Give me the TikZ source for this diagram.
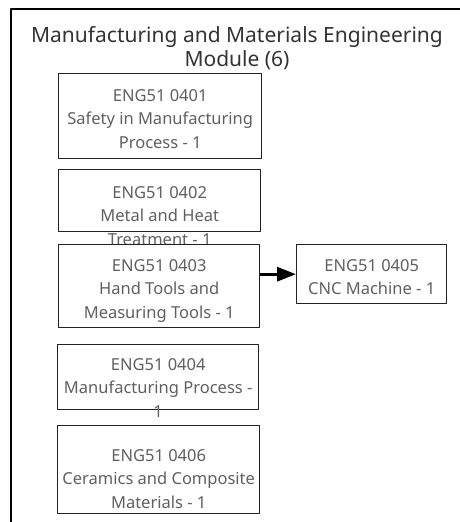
\documentclass[tikz,border=0pt]{standalone}
\usepackage{fontspec}
\setmainfont{Noto Sans}
\usetikzlibrary{arrows.meta}
\definecolor{boxline}{HTML}{222222}
\definecolor{boxtext}{HTML}{606060}
\definecolor{titletext}{HTML}{333333}
\begin{document}
\begin{tikzpicture}[x=1pt,y=-1pt,line join=round,
    box/.style={draw=boxline,line width=1.4pt,fill=white,anchor=north west,inner sep=0pt},
    boxtxt/.style={anchor=north,align=center,text=boxtext,font=\fontsize{16.5}{23.5}\selectfont,inner sep=0pt},
    arr/.style={-{Triangle[length=19pt,width=14pt]},line width=3.2pt}]
    \useasboundingbox (0,0) rectangle (459,522);
    \draw[line width=2pt] (11,523) |- (460,9);
    \node[align=center,text=titletext,font=\fontsize{21}{24}\selectfont] (title) at (237,48) {Manufacturing and Materials Engineering\\Module (6)};
    \node[box,minimum width=203pt,minimum height=85pt] (m0401) at (58,73) {};
    \node[boxtxt] (t0401) at ([yshift=-16pt]m0401.north) {ENG51 0401\\Safety in Manufacturing\\Process - 1};
    \node[box,minimum width=202pt,minimum height=62pt] (m0402) at (58,169) {};
    \node[boxtxt] (t0402) at ([yshift=-17pt]m0402.north) {ENG51 0402\\Metal and Heat\\Treatment - 1};
    \node[box,minimum width=201pt,minimum height=83pt] (m0403) at (58,244) {};
    \node[boxtxt] (t0403) at ([yshift=-15pt]m0403.north) {ENG51 0403\\Hand Tools and\\Measuring Tools - 1};
    \node[box,minimum width=150pt,minimum height=59pt] (m0405) at (296,244) {};
    \node[boxtxt] (t0405) at ([yshift=-15pt]m0405.north) {ENG51 0405\\CNC Machine - 1};
    \node[box,minimum width=201pt,minimum height=65pt] (m0404) at (57,344) {};
    \node[boxtxt] (t0404) at ([yshift=-14pt]m0404.north) {ENG51 0404\\Manufacturing Process -\\1};
    \node[box,minimum width=202pt,minimum height=88pt] (m0406) at (57,425) {};
    \node[boxtxt] (t0406) at ([yshift=-24pt]m0406.north) {ENG51 0406\\Ceramics and Composite\\Materials - 1};
    \draw[arr] (m0403.east |- m0405.west) -- (m0405.west);
\end{tikzpicture}
\end{document}
